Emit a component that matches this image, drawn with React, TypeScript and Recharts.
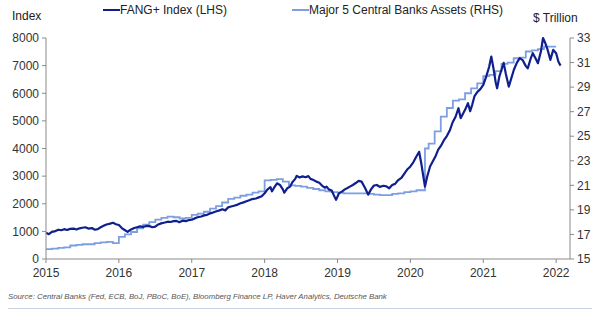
import { LineChart, Line, XAxis, YAxis } from "recharts";

// FANG+ index (LHS), time as fractional year
const FANG_T = [
  2015.0, 2015.04, 2015.08, 2015.13, 2015.17, 2015.21, 2015.25, 2015.29, 2015.33, 2015.38,
  2015.42, 2015.46, 2015.5, 2015.54, 2015.58, 2015.63, 2015.67, 2015.71, 2015.75, 2015.79,
  2015.83, 2015.88, 2015.92, 2015.96, 2016.0, 2016.04, 2016.08, 2016.12, 2016.16, 2016.21,
  2016.25, 2016.29, 2016.33, 2016.38, 2016.42, 2016.46, 2016.5, 2016.54, 2016.58, 2016.63,
  2016.67, 2016.71, 2016.75, 2016.79, 2016.83, 2016.88, 2016.92, 2016.96, 2017.0, 2017.04,
  2017.08, 2017.13, 2017.17, 2017.21, 2017.25, 2017.29, 2017.33, 2017.38, 2017.42, 2017.46,
  2017.5, 2017.54, 2017.58, 2017.63, 2017.67, 2017.71, 2017.75, 2017.79, 2017.83, 2017.88,
  2017.92, 2017.96, 2018.0, 2018.04, 2018.08, 2018.1, 2018.13, 2018.17, 2018.21, 2018.25,
  2018.27, 2018.31, 2018.35, 2018.38, 2018.42, 2018.44, 2018.48, 2018.52, 2018.56, 2018.6,
  2018.63, 2018.67, 2018.71, 2018.75, 2018.79, 2018.83, 2018.85, 2018.88, 2018.92, 2018.96,
  2018.98, 2019.02, 2019.06, 2019.1, 2019.13, 2019.17, 2019.21, 2019.25, 2019.29, 2019.33,
  2019.38, 2019.42, 2019.46, 2019.5, 2019.54, 2019.58, 2019.63, 2019.67, 2019.71, 2019.75,
  2019.79, 2019.83, 2019.88, 2019.92, 2019.96, 2020.0, 2020.04, 2020.08, 2020.12, 2020.15,
  2020.18, 2020.2, 2020.23, 2020.27, 2020.31, 2020.35, 2020.38, 2020.42, 2020.46, 2020.5,
  2020.54, 2020.58, 2020.62, 2020.66, 2020.69, 2020.72, 2020.75, 2020.79, 2020.82, 2020.85,
  2020.88, 2020.92, 2020.96, 2021.0, 2021.04, 2021.08, 2021.11, 2021.14, 2021.17, 2021.19,
  2021.22, 2021.25, 2021.28, 2021.31, 2021.35, 2021.38, 2021.42, 2021.46, 2021.5, 2021.54,
  2021.58, 2021.61, 2021.65, 2021.68, 2021.72, 2021.75, 2021.79, 2021.82, 2021.85, 2021.88,
  2021.92, 2021.96, 2022.0, 2022.03, 2022.06,
];
const FANG_V = [
  950, 900, 980, 1010, 1060, 1040, 1080, 1050, 1090, 1100,
  1070, 1110, 1130, 1150, 1100, 1120, 1060, 1080, 1150, 1200,
  1250, 1280, 1310, 1260, 1230, 1120, 1050, 980, 1060, 1120,
  1150, 1180, 1160, 1200, 1190, 1150, 1170, 1250, 1290, 1320,
  1350, 1340, 1370, 1380, 1330, 1390, 1370, 1410, 1420, 1470,
  1510, 1540, 1580, 1600, 1650, 1680, 1720, 1760, 1800, 1760,
  1870, 1900, 1930, 1970, 2020, 2050, 2090, 2130, 2170, 2190,
  2230, 2270, 2380, 2520, 2600, 2450, 2580, 2740, 2680, 2520,
  2400, 2560, 2620, 2780, 2900, 3010, 2950, 2990, 2960, 3000,
  2900, 2860, 2800, 2760, 2650, 2580, 2620, 2520, 2480, 2250,
  2140, 2380, 2440, 2520, 2560, 2620, 2680, 2750, 2830, 2800,
  2560, 2330, 2520, 2660, 2680, 2610, 2650, 2630, 2560, 2680,
  2720, 2850, 2950, 3100, 3250, 3350, 3500, 3700, 3880, 3450,
  2950, 2620, 2980, 3350, 3550, 3750, 3950, 4100, 4300, 4450,
  4650, 4950, 5150, 5460, 5100, 5250, 5400, 5640, 5350, 5600,
  5900, 6050, 6150, 6300, 6600, 6950, 7330, 6900, 6400, 6180,
  6600, 6850, 7100, 6700, 6240, 6500, 6850, 7100, 7270, 7200,
  7000, 6900, 7250, 7450, 7250, 7090, 7500, 8000, 7820, 7600,
  7210, 7570, 7450, 7150, 7000,
];

// Major 5 central banks assets (RHS, $ trillion), monthly
const CB_T = [
  2015.0, 2015.083, 2015.167, 2015.25, 2015.333, 2015.417, 2015.5, 2015.583, 2015.667, 2015.75, 2015.833, 2015.917,
  2016.0, 2016.083, 2016.167, 2016.25, 2016.333, 2016.417, 2016.5, 2016.583, 2016.667, 2016.75, 2016.833, 2016.917,
  2017.0, 2017.083, 2017.167, 2017.25, 2017.333, 2017.417, 2017.5, 2017.583, 2017.667, 2017.75, 2017.833, 2017.917,
  2018.0, 2018.083, 2018.167, 2018.25, 2018.333, 2018.417, 2018.5, 2018.583, 2018.667, 2018.75, 2018.833, 2018.917,
  2019.0, 2019.083, 2019.167, 2019.25, 2019.333, 2019.417, 2019.5, 2019.583, 2019.667, 2019.75, 2019.833, 2019.917,
  2020.0, 2020.083, 2020.2, 2020.25, 2020.333, 2020.417, 2020.5, 2020.583, 2020.667, 2020.75, 2020.833, 2020.917,
  2021.0, 2021.083, 2021.167, 2021.25, 2021.333, 2021.417, 2021.5, 2021.583, 2021.667, 2021.75, 2021.833, 2021.917,
  2022.0,
];
const CB_V = [
  15.8, 15.85, 15.9, 15.95, 16.1, 16.15, 16.2, 16.2, 16.3, 16.35, 16.4, 16.3,
  16.8, 17.0, 17.2, 17.5, 17.8, 18.0, 18.2, 18.35, 18.45, 18.4, 18.3, 18.35,
  18.6, 18.7, 18.85, 19.1, 19.3, 19.6, 19.9, 20.0, 20.15, 20.25, 20.4, 20.5,
  21.4, 21.45, 21.5, 21.3, 21.0, 20.95, 20.9, 20.8, 20.7, 20.6, 20.5, 20.45,
  20.4, 20.35, 20.35, 20.35, 20.35, 20.3, 20.25, 20.2, 20.2, 20.3, 20.35, 20.45,
  20.5, 20.6, 24.0, 24.4, 25.4, 26.6, 27.3, 27.9, 28.0, 28.5, 28.9, 29.3,
  29.9, 30.0, 30.3, 30.9, 31.0, 31.35, 31.4, 31.9, 32.0, 32.1, 32.3, 32.3,
  32.3,
];

const YEAR_TICKS = [2015, 2016, 2017, 2018, 2019, 2020, 2021, 2022];
const LEFT_TICKS = [0, 1000, 2000, 3000, 4000, 5000, 6000, 7000, 8000];
const RIGHT_TICKS = [15, 17, 19, 21, 23, 25, 27, 29, 31, 33];

const fangData = FANG_T.map((t, i) => ({ t, fang: FANG_V[i] }));
const cbData = CB_T.map((t, i) => ({ t, cb: CB_V[i] }));

const FONT = "'Liberation Sans', Arial, sans-serif";
const DARK = "#0f1f8e";
const LIGHT = "#7d9fe2";
const AXIS = "#8a8a8a";
const tickStyle = { fill: "#333", fontSize: 12, fontFamily: FONT };

export default function App() {
  const label = (left: number, top: number, text: string, extra = {}) => (
    <div
      style={{
        position: "absolute",
        left,
        top,
        fontSize: 12,
        lineHeight: "14px",
        color: "#222",
        fontFamily: FONT,
        whiteSpace: "nowrap",
        ...extra,
      }}
    >
      {text}
    </div>
  );

  return (
    <div style={{ position: "absolute", left: 0, top: 0, width: 602, height: 328, background: "#fff" }}>
      <LineChart width={602} height={328} margin={{ top: 38, right: 0, left: 0, bottom: 49 }}>
        <XAxis
          dataKey="t"
          type="number"
          domain={[2015, 2022.19]}
          ticks={YEAR_TICKS}
          allowDuplicatedCategory={false}
          height={20}
          stroke={AXIS}
          tickSize={4}
          tickMargin={5}
          tick={tickStyle}
        />
        <YAxis
          yAxisId="left"
          domain={[0, 8000]}
          ticks={LEFT_TICKS}
          width={46}
          stroke={AXIS}
          tickSize={4}
          tickMargin={3}
          tick={tickStyle}
        />
        <YAxis
          yAxisId="right"
          orientation="right"
          domain={[15, 33]}
          ticks={RIGHT_TICKS}
          width={32}
          stroke={AXIS}
          tickSize={4}
          tickMargin={3}
          tick={tickStyle}
        />
        <Line
          yAxisId="right"
          data={cbData}
          dataKey="cb"
          type="stepAfter"
          stroke={LIGHT}
          strokeWidth={1.8}
          dot={false}
          isAnimationActive={false}
        />
        <Line
          yAxisId="left"
          data={fangData}
          dataKey="fang"
          type="linear"
          stroke={DARK}
          strokeWidth={2.2}
          strokeLinejoin="round"
          dot={false}
          isAnimationActive={false}
        />
      </LineChart>

      {label(12, 9, "Index")}
      <div style={{ position: "absolute", left: 103, top: 9, width: 17, height: 2, background: DARK }} />
      {label(120, 3, "FANG+ Index (LHS)")}
      <div style={{ position: "absolute", left: 292, top: 9, width: 17, height: 2, background: LIGHT }} />
      {label(309, 3, "Major 5 Central Banks Assets (RHS)")}
      {label(533, 11, "$ Trillion")}

      {label(8, 292, "Source: Central Banks (Fed, ECB, BoJ, PBoC, BoE), Bloomberg Finance LP, Haver Analytics, Deutsche Bank", {
        fontSize: 7.8,
        lineHeight: "10px",
        fontStyle: "italic",
        color: "#555",
      })}
      <div style={{ position: "absolute", left: 8, top: 308, width: 584, height: 1, background: "#c9d1dd" }} />
    </div>
  );
}
